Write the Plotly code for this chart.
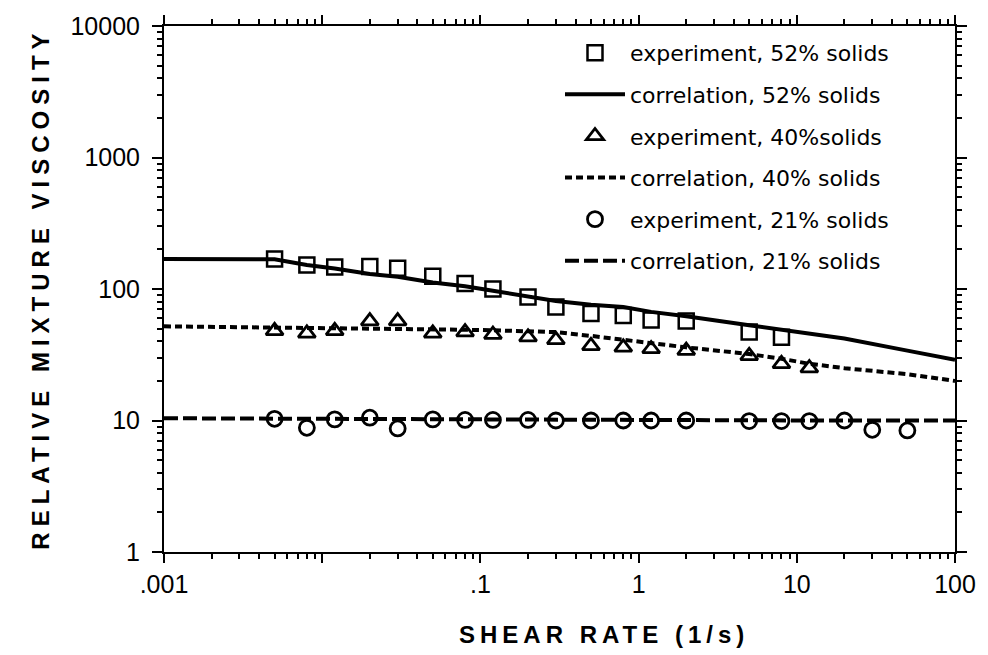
import plotly.graph_objects as go

# ---- data ----
x_exp = [0.005, 0.008, 0.012, 0.02, 0.03, 0.05, 0.08, 0.12, 0.2, 0.3,
         0.5, 0.8, 1.2, 2, 5, 8, 12, 20, 30, 50]
exp52 = [169, 152, 147, 148, 144, 125, 110, 100, 87, 73,
         65, 63, 58, 57, 47, 43]
exp40 = [48, 46, 48, 57, 57, 46, 47, 45, 43, 41,
         37, 36, 35, 34, 31, 27, 25]
exp21 = [10.3, 8.8, 10.2, 10.5, 8.7, 10.2, 10.1, 10.1, 10.1, 10.0,
         10.0, 10.0, 10.0, 10.0, 9.9, 9.9, 9.9, 10.0, 8.5, 8.4]

x_corr = [0.001, 0.005, 0.008, 0.012, 0.02, 0.03, 0.05, 0.08, 0.12, 0.2,
          0.3, 0.5, 0.8, 1.2, 2, 5, 8, 12, 20, 50, 100]
corr52 = [169, 168, 152, 143, 130, 124, 112, 105, 97, 88,
          81, 76, 73, 67, 62, 53, 49, 46, 42, 34, 29]
corr40 = [52, 51, 51, 50.5, 50, 50, 49.5, 49, 48.5, 48,
          47, 44, 41, 39, 36, 32, 29.5, 27, 25, 22.5, 20]
corr21 = [10.4, 10.3, 10.3, 10.3, 10.3, 10.3, 10.2, 10.2, 10.2, 10.2,
          10.1, 10.1, 10.1, 10.1, 10.0, 10.0, 10.0, 10.0, 10.0, 10.0, 10.0]

x_tickvals = [0.001, 0.01, 0.1, 1, 10, 100]
x_ticktext = [".001", "", ".1", "1", "10", "100"]
y_tickvals = [1, 10, 100, 1000, 10000]
y_ticktext = ["1", "10", "100", "1000", "10000"]

names = ["experiment, 52% solids", "correlation, 52% solids",
         "experiment, 40%solids", "correlation, 40% solids",
         "experiment, 21% solids", "correlation, 21% solids"]

BLACK = "black"
fig = go.Figure()

fig.add_trace(go.Scatter(x=x_exp[:len(exp52)], y=exp52, mode="markers", name=names[0],
                         legendgroup="a",
                         marker=dict(symbol="square-open", size=15, color=BLACK,
                                     line=dict(width=2.5, color=BLACK))))
fig.add_trace(go.Scatter(x=x_corr, y=corr52, mode="lines", name=names[1],
                         legendgroup="b",
                         line=dict(color=BLACK, width=4)))
fig.add_trace(go.Scatter(x=x_exp[:len(exp40)], y=exp40, mode="markers", name=names[2],
                         legendgroup="c",
                         marker=dict(symbol="triangle-up-open", size=15, color=BLACK,
                                     line=dict(width=2.8, color=BLACK))))
fig.add_trace(go.Scatter(x=x_corr, y=corr40, mode="lines", name=names[3],
                         legendgroup="d",
                         line=dict(color=BLACK, width=4, dash="7px,4px")))
fig.add_trace(go.Scatter(x=x_exp[:len(exp21)], y=exp21, mode="markers", name=names[4],
                         legendgroup="e",
                         marker=dict(symbol="circle-open", size=15, color=BLACK,
                                     line=dict(width=2.8, color=BLACK))))
fig.add_trace(go.Scatter(x=x_corr, y=corr21, mode="lines", name=names[5],
                         legendgroup="f",
                         line=dict(color=BLACK, width=4, dash="14px,5px")))

tickfont = dict(family="Liberation Sans, Arial, sans-serif", size=25, color=BLACK)
minor = dict(ticks="outside", ticklen=5, tickwidth=1.5, tickcolor=BLACK,
             dtick="D1", showgrid=False)

fig.update_xaxes(type="log", range=[-3, 2], tickvals=x_tickvals, ticktext=x_ticktext,
                 ticks="outside", ticklen=9, tickwidth=2, tickcolor=BLACK,
                 showline=True, linecolor=BLACK, linewidth=2, mirror="allticks",
                 showgrid=False, zeroline=False, tickfont=tickfont,
                 ticklabelstandoff=0, minor=minor)
fig.update_yaxes(type="log", range=[0, 4], tickvals=y_tickvals, ticktext=y_ticktext,
                 ticks="outside", ticklen=10, tickwidth=2, tickcolor=BLACK,
                 showline=True, linecolor=BLACK, linewidth=2, mirror="allticks",
                 showgrid=False, zeroline=False, tickfont=tickfont,
                 ticklabelstandoff=7, minor=minor)

title_font = dict(family="Liberation Sans, Arial, sans-serif", size=24, color=BLACK)
fig.add_annotation(text='<b><span style="letter-spacing:5px">SHEAR RATE (1/s)</span></b>',
                   xref="paper", yref="paper", x=(606 - 164) / 795, y=-(635 - 552) / 530,
                   xanchor="center", yanchor="middle", showarrow=False, font=title_font)
fig.add_annotation(text='<b><span style="letter-spacing:6px">RELATIVE MIXTURE VISCOSITY</span></b>',
                   xref="paper", yref="paper", x=-(164 - 39) / 795, y=0.5, textangle=-90,
                   xanchor="center", yanchor="middle", showarrow=False, font=title_font)

fig.update_layout(
    width=988, height=655,
    margin=dict(l=164, r=29, t=22, b=103),
    paper_bgcolor="white", plot_bgcolor="white",
    showlegend=True,
    legend=dict(x=(562 - 164) / 795, y=(552 - 28) / 530, xanchor="left", yanchor="top",
                bgcolor="rgba(0,0,0,0)", borderwidth=0,
                font=dict(family="DejaVu Sans, Arial, sans-serif", size=22, color=BLACK),
                traceorder="grouped", tracegroupgap=10, itemwidth=60),
)

fig.write_html("out.html")
